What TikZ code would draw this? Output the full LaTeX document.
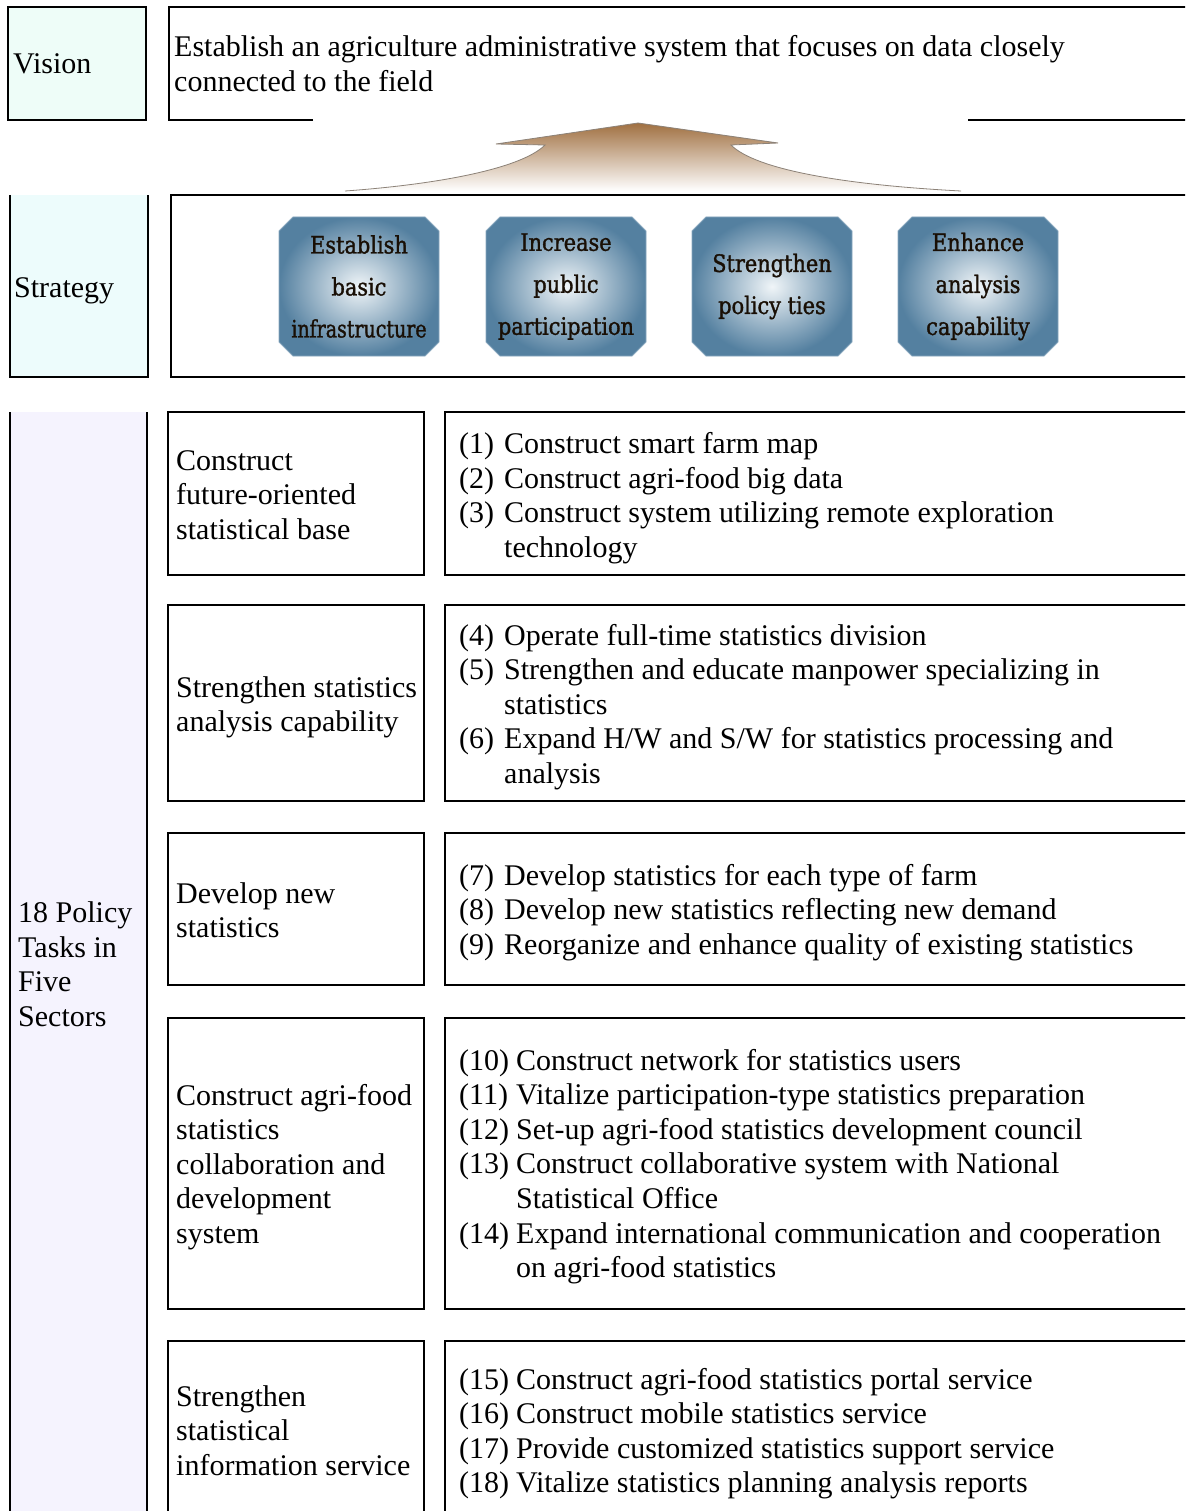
\documentclass[tikz,border=0pt]{standalone}
\usepackage{fontspec}
\usepackage{graphicx}
\setmainfont{Liberation Serif}
\newfontfamily\btnfont{DejaVu Serif}[FakeStretch=0.87,FakeBold=1.3]
\usetikzlibrary{shapes.misc}
\definecolor{visfill}{RGB}{238,253,248}
\definecolor{strfill}{RGB}{237,252,252}
\definecolor{polfill}{RGB}{245,243,254}
\definecolor{btnedge}{RGB}{84,128,160}
\definecolor{btncenter}{RGB}{240,245,248}
\definecolor{btntext}{RGB}{25,15,5}
\definecolor{arrowtop}{RGB}{160,112,65}
\definecolor{arrowmid}{RGB}{215,182,135}
\definecolor{arrowline}{RGB}{140,130,120}
\begin{document}
\begin{tikzpicture}[x=1pt,y=-1pt,
  txt/.style={font=\fontsize{30}{34.6}\selectfont, inner sep=0pt, anchor=base west},
  frame/.style={draw=black, line width=1.2pt},
  thickframe/.style={draw=black, line width=2.4pt},
  cellbox/.style={anchor=north west, inner sep=0pt, outer sep=0pt},
  btn/.style={chamfered rectangle, chamfered rectangle xsep=7pt, chamfered rectangle ysep=7pt,
    minimum width=160, minimum height=139, inner sep=0pt,
    inner color=btncenter, outer color=btnedge, draw=btnedge!70!white, line width=0.8pt,
    font=\btnfont\fontsize{24}{42}\selectfont, align=center, text=btntext}]
\useasboundingbox (0,0) rectangle (1185,1511);
\clip (0,0) rectangle (1185,1511);

% ---------- Vision ----------
\node[cellbox, frame, fill=visfill, minimum width=138, minimum height=113] (visbox) at (8,7) {};
\node[txt] (vislabel) at (13,73.5) {Vision};
\draw[line width=1.2pt] (313,120) -- (169,120) -- (169,7) -- (1200,7);
\draw[line width=1.2pt] (968,120) -- (1200,120);
\node[txt] (vistext) at (174,57) {\begin{tabular}[t]{@{}l@{}}Establish an agriculture administrative system that focuses on data closely\\connected to the field\end{tabular}};

% ---------- Arrow ----------
\shade[top color=arrowtop, middle color=arrowmid, bottom color=white]
  (345,191) .. controls (430,185) and (520,170) .. (545,145) -- (496,144) -- (638,123)
  -- (778,143) -- (731,145) .. controls (756,170) and (846,185) .. (961,191) -- cycle;
\draw[arrowline, line width=0.8pt]
  (345,191) .. controls (430,185) and (520,170) .. (545,145) -- (496,144) -- (638,123)
  -- (778,143) -- (731,145) .. controls (756,170) and (846,185) .. (961,191);

% ---------- Strategy ----------
\node[cellbox, fill=strfill, minimum width=138, minimum height=182] (strbox) at (10,195) {};
\draw[line width=1.2pt] (strbox.north west) -- (strbox.south west) -- (strbox.south east) -- (strbox.north east);
\node[txt] (strlabel) at (14,297.5) {Strategy};
\node[cellbox, frame, minimum width=1100, minimum height=182] (strcontent) at (171,195) {};
\node[btn] (b1) at (359,286.5) {Establish\\basic\\\scalebox{0.91}[1]{infrastructure}};
\node[btn] (b2) at (566,286.5) {Increase\\public\\participation};
\node[btn] (b3) at (772,286.5) {Strengthen\\policy ties};
\node[btn] (b4) at (978,286.5) {Enhance\\analysis\\capability};

% ---------- Policy column ----------
\node[cellbox, fill=polfill, minimum width=137, minimum height=1150] (polbox) at (10,412) {};
\draw[line width=1.2pt] (polbox.south west) -- (polbox.north west);
\draw[line width=1.2pt] (polbox.north east) -- (polbox.south east);
\node[txt] (pollabel) at (18,922.5) {\begin{tabular}[t]{@{}l@{}}18 Policy\\Tasks in\\Five\\Sectors\end{tabular}};

% ---------- Row 1 ----------
\node[cellbox, frame, minimum width=256, minimum height=163] (l1) at (168,412) {};
\node[cellbox, frame, minimum width=800, minimum height=163] (r1) at (445,412) {};
\node[txt] (l1t) at (176,470) {\begin{tabular}[t]{@{}l@{}}Construct\\future-oriented\\statistical base\end{tabular}};
\node[txt] (r1t) at (459,453.5) {\begin{tabular}[t]{@{}p{45pt}@{}l@{}}(1) & Construct smart farm map\\(2) & Construct agri-food big data\\(3) & Construct system utilizing remote exploration\\ & technology\end{tabular}};

% ---------- Row 2 ----------
\node[cellbox, frame, minimum width=256, minimum height=196] (l2) at (168,605) {};
\node[cellbox, frame, minimum width=800, minimum height=196] (r2) at (445,605) {};
\node[txt] (l2t) at (176,697) {\begin{tabular}[t]{@{}l@{}}Strengthen statistics\\analysis capability\end{tabular}};
\node[txt] (r2t) at (459,645) {\begin{tabular}[t]{@{}p{45pt}@{}l@{}}(4) & Operate full-time statistics division\\(5) & Strengthen and educate manpower specializing in\\ & statistics\\(6) & Expand H/W and S/W for statistics processing and\\ & analysis\end{tabular}};

% ---------- Row 3 ----------
\node[cellbox, thickframe, minimum width=256, minimum height=152] (l3) at (168,833) {};
\node[cellbox, thickframe, minimum width=800, minimum height=152] (r3) at (445,833) {};
\node[txt] (l3t) at (176,903) {\begin{tabular}[t]{@{}l@{}}Develop new\\statistics\end{tabular}};
\node[txt] (r3t) at (459,885) {\begin{tabular}[t]{@{}p{45pt}@{}l@{}}(7) & Develop statistics for each type of farm\\(8) & Develop new statistics reflecting new demand\\(9) & Reorganize and enhance quality of existing statistics\end{tabular}};

% ---------- Row 4 ----------
\node[cellbox, thickframe, minimum width=256, minimum height=291] (l4) at (168,1018) {};
\node[cellbox, thickframe, minimum width=800, minimum height=291] (r4) at (445,1018) {};
\node[txt] (l4t) at (176,1105) {\begin{tabular}[t]{@{}l@{}}Construct agri-food\\statistics\\collaboration and\\development\\system\end{tabular}};
\node[txt] (r4t) at (459,1070) {\begin{tabular}[t]{@{}p{57pt}@{}l@{}}(10) & Construct network for statistics users\\(11) & Vitalize participation-type statistics preparation\\(12) & Set-up agri-food statistics development council\\(13) & Construct collaborative system with National\\ & Statistical Office\\(14) & Expand international communication and cooperation\\ & on agri-food statistics\end{tabular}};

% ---------- Row 5 ----------
\node[cellbox, frame, minimum width=256, minimum height=220] (l5) at (168,1341) {};
\node[cellbox, frame, minimum width=800, minimum height=220] (r5) at (445,1341) {};
\node[txt] (l5t) at (176,1406) {\begin{tabular}[t]{@{}l@{}}Strengthen\\statistical\\information service\end{tabular}};
\node[txt] (r5t) at (459,1389) {\begin{tabular}[t]{@{}p{57pt}@{}l@{}}(15) & Construct agri-food statistics portal service\\(16) & Construct mobile statistics service\\(17) & Provide customized statistics support service\\(18) & Vitalize statistics planning analysis reports\end{tabular}};
\end{tikzpicture}
\end{document}
